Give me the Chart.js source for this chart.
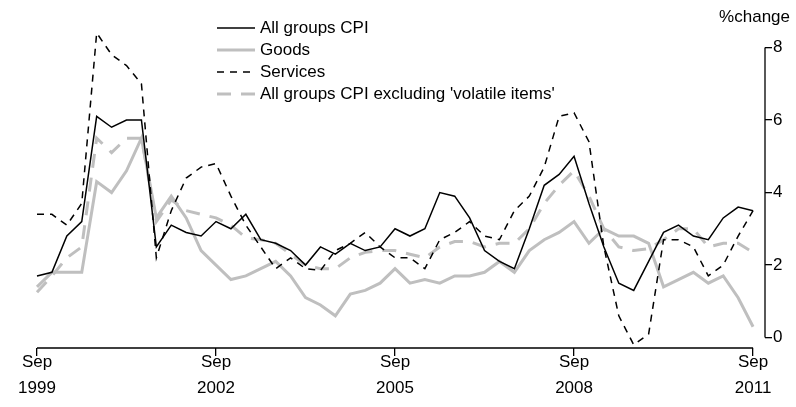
<!DOCTYPE html>
<html><head><meta charset="utf-8">
<script src="https://cdn.jsdelivr.net/npm/chart.js@4/dist/chart.umd.min.js"></script>
<style>html,body{margin:0;padding:0;background:#fff}#wrap{width:796px;height:407px;position:relative}</style>
</head><body><div id="wrap"><canvas id="c"></canvas></div>
<script>
// Quarterly categories, Sep 1999 .. Sep 2011
const quarters = [
 'Sep 1999','Dec 1999','Mar 2000','Jun 2000','Sep 2000','Dec 2000','Mar 2001','Jun 2001',
 'Sep 2001','Dec 2001','Mar 2002','Jun 2002','Sep 2002','Dec 2002','Mar 2003','Jun 2003',
 'Sep 2003','Dec 2003','Mar 2004','Jun 2004','Sep 2004','Dec 2004','Mar 2005','Jun 2005',
 'Sep 2005','Dec 2005','Mar 2006','Jun 2006','Sep 2006','Dec 2006','Mar 2007','Jun 2007',
 'Sep 2007','Dec 2007','Mar 2008','Jun 2008','Sep 2008','Dec 2008','Mar 2009','Jun 2009',
 'Sep 2009','Dec 2009','Mar 2010','Jun 2010','Sep 2010','Dec 2010','Mar 2011','Jun 2011','Sep 2011'];
const xTickIndex = [0, 12, 24, 36, 48];
const xTickLabels = [['Sep','1999'],['Sep','2002'],['Sep','2005'],['Sep','2008'],['Sep','2011']];
const yTicks = [0, 2, 4, 6, 8];
const unitLabel = '%change';
const seriesNames = ['All groups CPI','Goods','Services',"All groups CPI excluding 'volatile items'"];

const cpi = [1.7,1.8,2.8,3.2,6.1,5.8,6.0,6.0,2.5,3.1,2.9,2.8,3.2,3.0,3.4,2.7,2.6,2.4,2.0,2.5,2.3,2.6,2.4,2.5,3.0,2.8,3.0,4.0,3.9,3.3,2.4,2.1,1.9,3.0,4.2,4.5,5.0,3.7,2.5,1.5,1.3,2.1,2.9,3.1,2.8,2.7,3.3,3.6,3.5];
const goods = [1.4,1.8,1.8,1.8,4.3,4.0,4.6,5.5,3.3,3.9,3.3,2.4,2.0,1.6,1.7,1.9,2.1,1.7,1.1,0.9,0.6,1.2,1.3,1.5,1.9,1.5,1.6,1.5,1.7,1.7,1.8,2.1,1.8,2.4,2.7,2.9,3.2,2.6,3.0,2.8,2.8,2.6,1.4,1.6,1.8,1.5,1.7,1.1,0.3];
const services = [3.4,3.4,3.1,3.7,8.4,7.8,7.5,7.0,2.2,3.5,4.4,4.7,4.8,3.9,3.1,2.5,1.9,2.2,1.9,1.85,2.4,2.6,2.9,2.5,2.2,2.2,1.9,2.7,2.9,3.2,2.8,2.7,3.5,3.9,4.7,6.1,6.2,5.4,2.5,0.6,-0.2,0.1,2.7,2.7,2.5,1.7,2.0,2.8,3.5];
const exclVolatile = [1.25,1.7,2.2,2.5,5.5,5.1,5.5,5.5,3.2,3.8,3.5,3.4,3.3,3.1,2.75,2.7,2.6,2.3,2.0,1.9,1.9,2.2,2.35,2.4,2.4,2.3,2.2,2.5,2.65,2.65,2.5,2.6,2.6,3.0,3.7,4.2,4.6,3.9,3.0,2.5,2.4,2.45,2.7,3.0,3.0,2.5,2.6,2.6,2.35];

const FONT = "'Liberation Sans', Arial, sans-serif";
const pts = arr => arr.map((v, i) => ({x: i, y: v}));

const styles = [
  {borderColor:'#000000', borderWidth:1.5, borderDash:[], order:0},
  {borderColor:'#bfbfbf', borderWidth:3, borderDash:[], order:2},
  {borderColor:'#000000', borderWidth:1.5, borderDash:[7,6], order:1},
  {borderColor:'#bfbfbf', borderWidth:3, borderDash:[14,10], order:3}
];
const seriesData = [cpi, goods, services, exclVolatile];

const datasets = seriesData.map((d, k) => Object.assign({
  label: seriesNames[k], data: pts(d), pointRadius:0, pointHoverRadius:0,
  tension:0, fill:false, clip:false, borderCapStyle:'butt', borderJoinStyle:'miter'
}, styles[k]));

const extras = {
  id:'extras',
  afterDraw(chart){
    const ctx = chart.ctx, xs = chart.scales.x, ys = chart.scales.y, ca = chart.chartArea;
    ctx.save();
    ctx.strokeStyle = '#000'; ctx.lineWidth = 1.3; ctx.setLineDash([]);
    ctx.beginPath();
    ctx.moveTo(xs.getPixelForValue(xTickIndex[0]), ca.bottom);
    ctx.lineTo(xs.getPixelForValue(xTickIndex[xTickIndex.length-1]), ca.bottom);
    ctx.moveTo(ca.right, ys.getPixelForValue(yTicks[yTicks.length-1]));
    ctx.lineTo(ca.right, ys.getPixelForValue(yTicks[0]));
    ctx.stroke();
    ctx.font = '17px ' + FONT; ctx.fillStyle = '#000';
    ctx.textAlign = 'right'; ctx.textBaseline = 'middle';
    ctx.fillText(unitLabel, 790, 17);
    // legend
    ctx.textAlign = 'left';
    chart.data.datasets.forEach((ds, k) => {
      const y = 28 + 22 * k;
      ctx.save();
      ctx.strokeStyle = ds.borderColor; ctx.lineWidth = ds.borderWidth;
      ctx.setLineDash(ds.borderDash || []);
      ctx.beginPath(); ctx.moveTo(217, y); ctx.lineTo(255, y); ctx.stroke();
      ctx.restore();
      ctx.fillText(ds.label, 260, y);
    });
    ctx.restore();
  }
};

new Chart(document.getElementById('c'), {
  type:'line',
  data:{ datasets },
  options:{
    responsive:true, maintainAspectRatio:false, animation:false, devicePixelRatio:1,
    layout:{ padding:{left:37, right:0, top:2, bottom:0} },
    plugins:{ legend:{display:false}, tooltip:{enabled:false} },
    scales:{
      x:{ type:'linear', min:0, max:48.8,
        afterBuildTicks: s => { s.ticks = xTickIndex.map(v => ({value:v})); },
        afterFit: s => { s.height = 59; },
        grid:{ drawOnChartArea:false, drawTicks:true, tickLength:8, color:'#000', lineWidth:1.3 },
        border:{ display:false },
        ticks:{ autoSkip:false, maxRotation:0, color:'#000', padding:-6,
          font:{ family:FONT, size:17, lineHeight:1.5 },
          callback: (v, i) => xTickLabels[i] }
      },
      y:{ position:'right', min:-0.287, max:9,
        afterBuildTicks: s => { s.ticks = yTicks.map(v => ({value:v})); },
        afterFit: s => { s.width = 31; },
        grid:{ drawOnChartArea:false, drawTicks:true, tickLength:7, color:'#000', lineWidth:1.3 },
        border:{ display:false },
        ticks:{ color:'#000', padding:1, font:{ family:FONT, size:17 }, callback: v => String(v) }
      }
    }
  },
  plugins:[extras]
});
</script></body></html>
